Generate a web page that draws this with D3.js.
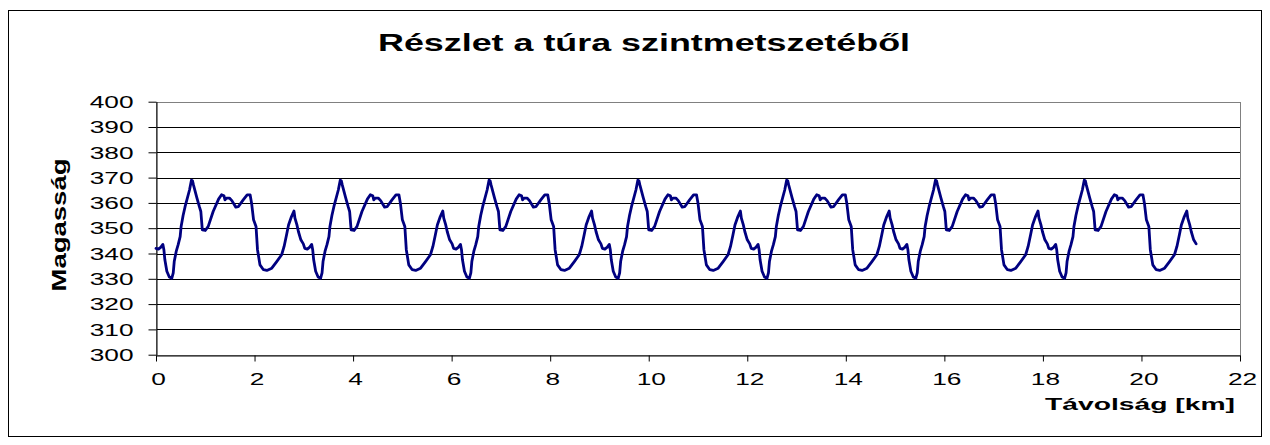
<!DOCTYPE html>
<html>
<head>
<meta charset="utf-8">
<script src="https://cdn.jsdelivr.net/npm/d3@7"></script>
<style>
  html, body { margin: 0; padding: 0; background: #fff; }
  svg { display: block; font-family: "Liberation Sans", Arial, sans-serif; }
</style>
</head>
<body>
<div id="chart"></div>
<script>
// --------------- Data ---------------
// one stretch of the profile (km from segment start, m)
const SEGMENT_KM = [
  0.00, 0.05, 0.10, 0.14, 0.16, 0.18, 0.22, 0.27, 0.32, 0.35, 0.37, 0.41,
  0.45, 0.49, 0.51, 0.55, 0.59, 0.68, 0.72, 0.74, 0.76, 0.83, 0.88, 0.91,
  0.94, 1.00, 1.06, 1.16, 1.27, 1.33, 1.38, 1.40, 1.43, 1.49, 1.54, 1.62,
  1.67, 1.77, 1.85, 1.91, 1.94, 1.98, 2.03, 2.06, 2.11, 2.18, 2.25, 2.35,
  2.45, 2.55, 2.60, 2.65, 2.69, 2.75, 2.80, 2.82, 2.86, 2.89, 2.94, 2.99,
];
const SEGMENT_M = [
  342.0, 341.7, 342.5, 343.6, 341.5, 337.5, 333.0, 330.7, 330.2, 332.3, 336.8, 340.8,
  343.5, 346.7, 350.7, 355.0, 358.5, 365.1, 369.0, 368.8, 367.1, 362.0, 358.5, 356.6,
  349.3, 349.1, 350.7, 356.6, 361.5, 363.2, 362.8, 361.2, 361.9, 361.9, 360.9, 358.3,
  358.5, 361.2, 363.2, 363.2, 359.9, 353.3, 350.7, 341.5, 335.5, 333.6, 333.3, 334.2,
  336.8, 339.5, 342.8, 347.4, 351.3, 354.6, 356.8, 354.0, 351.3, 348.7, 345.4, 343.8,
];
// where each repeat of the stretch begins on the distance axis (km)
const SEGMENT_STARTS = [0, 3.02, 6.04, 9.06, 12.08, 15.1, 18.12];

const X_TICKS = [0, 2, 4, 6, 8, 10, 12, 14, 16, 18, 20, 22];
const Y_TICKS = [300, 310, 320, 330, 340, 350, 360, 370, 380, 390, 400];

const TITLE = "Részlet a túra szintmetszetéből";
const X_TITLE = "Távolság [km]";
const Y_TITLE = "Magasság";

// --------------- Constants ---------------
const WIDTH = 1270;
const HEIGHT = 445;
const PLOT = { left: 156, right: 1240, top: 101.7, bottom: 354.7 };
const DIGIT_W = 14.6; // the picture's text is stretched sideways

const profile = SEGMENT_STARTS.flatMap((start) =>
  SEGMENT_KM.map((d, i) => ({ km: start + d, m: SEGMENT_M[i] }))
);

// --------------- Prep SVG ---------------
const svg = d3
  .select("#chart")
  .append("svg")
  .attr("width", WIDTH)
  .attr("height", HEIGHT);

const x = d3.scaleLinear().domain([0, 22]).range([PLOT.left, PLOT.right]);
const y = d3.scaleLinear().domain([300, 400]).range([PLOT.bottom, PLOT.top]);

// outer chart border
svg
  .append("rect")
  .attr("x", 8.5)
  .attr("y", 10.5)
  .attr("width", 1253)
  .attr("height", 426)
  .attr("fill", "#fff")
  .attr("stroke", "#000")
  .attr("stroke-width", 1);

// gridlines
svg
  .append("g")
  .selectAll("line")
  .data(Y_TICKS.filter((t) => t > 300 && t < 400))
  .join("line")
  .attr("x1", PLOT.left)
  .attr("x2", PLOT.right)
  .attr("y1", (d) => Math.round(y(d)) + 0.5)
  .attr("y2", (d) => Math.round(y(d)) + 0.5)
  .attr("stroke", "#000")
  .attr("stroke-width", 1);

// plot area frame (gray)
svg
  .append("rect")
  .attr("x", PLOT.left + 0.5)
  .attr("y", Math.round(PLOT.top) + 0.5)
  .attr("width", PLOT.right - PLOT.left)
  .attr("height", Math.round(PLOT.bottom) - Math.round(PLOT.top))
  .attr("fill", "none")
  .attr("stroke", "#808080")
  .attr("stroke-width", 1);

// --------------- Axes ---------------
const xAxis = svg
  .append("g")
  .attr("transform", `translate(0,${Math.round(PLOT.bottom) + 0.5})`)
  .call(d3.axisBottom(x).tickValues(X_TICKS).tickSize(6).tickSizeOuter(0).tickFormat(d3.format("d")));

const yAxis = svg
  .append("g")
  .attr("transform", `translate(${PLOT.left + 0.5},0)`)
  .call(d3.axisLeft(y).tickValues(Y_TICKS).tickSize(8).tickSizeOuter(0).tickFormat(d3.format("d")));

[xAxis, yAxis].forEach((g) => {
  g.select(".domain").attr("stroke", "#000");
  g.selectAll(".tick line").attr("stroke", "#000");
  g.selectAll(".tick text")
    .attr("fill", "#000")
    .attr("font-size", 16)
    .attr("font-family", '"Liberation Sans", Arial, sans-serif')
    .attr("lengthAdjust", "spacingAndGlyphs")
    .attr("textLength", function () {
      return this.textContent.length * DIGIT_W;
    });
});

xAxis.selectAll(".tick text").attr("y", 18).attr("dy", "0.71em").attr("dx", 2);
yAxis.selectAll(".tick text").attr("x", -23).attr("dy", "0.36em");

// --------------- Line ---------------
const line = d3
  .line()
  .x((d) => x(d.km))
  .y((d) => y(d.m))
  .curve(d3.curveLinear);

svg
  .append("path")
  .datum(profile)
  .attr("d", line)
  .attr("fill", "none")
  .attr("stroke", "#000080")
  .attr("stroke-width", 2.8)
  .attr("stroke-linejoin", "round")
  .attr("stroke-linecap", "round");

// --------------- Titles ---------------
svg
  .append("text")
  .attr("x", 644)
  .attr("y", 51)
  .attr("text-anchor", "middle")
  .attr("font-size", 23)
  .attr("font-weight", "bold")
  .attr("textLength", 532)
  .attr("lengthAdjust", "spacingAndGlyphs")
  .text(TITLE);

svg
  .append("text")
  .attr("x", 1235)
  .attr("y", 410)
  .attr("text-anchor", "end")
  .attr("font-size", 17)
  .attr("font-weight", "bold")
  .attr("textLength", 190)
  .attr("lengthAdjust", "spacingAndGlyphs")
  .text(X_TITLE);

svg
  .append("text")
  .attr("transform", "translate(66,225) rotate(-90)")
  .attr("text-anchor", "middle")
  .attr("font-size", 20)
  .attr("font-weight", "bold")
  .attr("textLength", 133)
  .attr("lengthAdjust", "spacingAndGlyphs")
  .text(Y_TITLE);
</script>
</body>
</html>
